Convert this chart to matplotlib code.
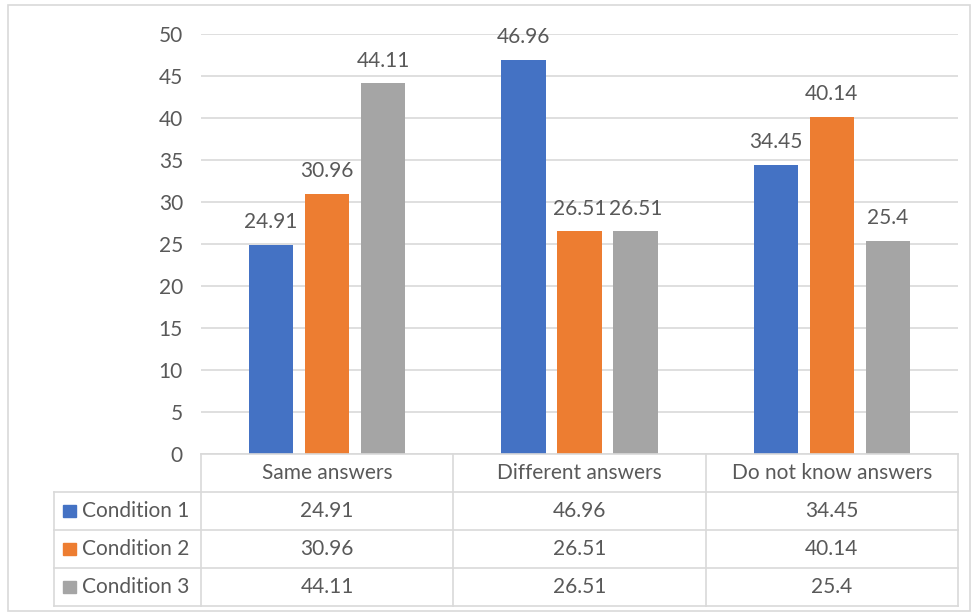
import numpy as np
import matplotlib
matplotlib.use("Agg")
import matplotlib.pyplot as plt
from matplotlib.patches import Rectangle

categories = ["Same answers", "Different answers", "Do not know answers"]
series_names = ["Condition 1", "Condition 2", "Condition 3"]
cond1 = [24.91, 46.96, 34.45]
cond2 = [30.96, 26.51, 40.14]
cond3 = [44.11, 26.51, 25.4]
colors = ["#4472C4", "#ED7D31", "#A5A5A5"]

text_col = "#595959"
grid_col = "#D9D9D9"
fs = 15
plt.rcParams["font.family"] = ["Lato", "DejaVu Sans"]

W, H = 972, 616
fig = plt.figure(figsize=(W / 100, H / 100), dpi=100)

def fx(px):
    return px / W

def fy(py):
    return 1 - py / H

# outer chart border
fig.patches.append(Rectangle((fx(8), fy(611)), fx(962), 606 / H, transform=fig.transFigure,
                             fill=False, edgecolor=grid_col, lw=1.2))

left, right = 201, 958
ax = fig.add_axes([fx(left), fy(454), fx(right - left), (454 - 34) / H])
x = np.arange(len(categories))
bw = 0.175
step = 0.222
for i, (vals, name) in enumerate(zip([cond1, cond2, cond3], series_names)):
    bars = ax.bar(x + (i - 1) * step, vals, bw, color=colors[i], label=name, zorder=3)
    for b, v in zip(bars, vals):
        ax.annotate(f"{v:g}", (b.get_x() + b.get_width() / 2, v), xytext=(0, 9),
                    textcoords="offset points", ha="center", va="bottom",
                    fontsize=fs, color=text_col)

ax.set_xlim(-0.5, 2.5)
ax.set_ylim(0, 50)
ax.set_yticks(range(0, 51, 5))
ax.yaxis.grid(True, color=grid_col, lw=1.2, zorder=0)
ax.tick_params(axis="y", length=0, pad=13, labelsize=fs, labelcolor=text_col)
ax.set_xticks([])
for s in ax.spines.values():
    s.set_visible(False)

# data table below the plot
tab = fig.add_axes([fx(left), fy(606), fx(right - left), (606 - 454) / H])
tab.set_xlim(-0.5, 2.5)
tab.set_ylim(4, 0)
tab.axis("off")
label_w = (left - 54) / (right - left) * 3
lc = dict(color=grid_col, lw=1.2, clip_on=False)

# horizontal rules
tab.plot([-0.5, 2.5], [0, 0], **lc)
for r in range(1, 5):
    tab.plot([-0.5 - label_w, 2.5], [r, r], **lc)
# vertical rules
tab.plot([-0.5 - label_w, -0.5 - label_w], [1, 4], **lc)
for c in range(4):
    tab.plot([c - 0.5, c - 0.5], [0, 4], **lc)

for c, cat in enumerate(categories):
    tab.text(c, 0.5, cat, ha="center", va="center", fontsize=fs, color=text_col)

for r, (name, vals) in enumerate(zip(series_names, [cond1, cond2, cond3]), start=1):
    tab.add_patch(Rectangle((-0.5 - label_w + 9 / 252, r + 0.5 - 0.17), 13 / 252, 0.34,
                            color=colors[r - 1], clip_on=False))
    tab.text(-0.5 - label_w + 28 / 252, r + 0.5, name, ha="left", va="center",
             fontsize=fs, color=text_col)
    for c, v in enumerate(vals):
        tab.text(c, r + 0.5, f"{v:g}", ha="center", va="center", fontsize=fs, color=text_col)

fig.savefig("out.png", dpi=100)
